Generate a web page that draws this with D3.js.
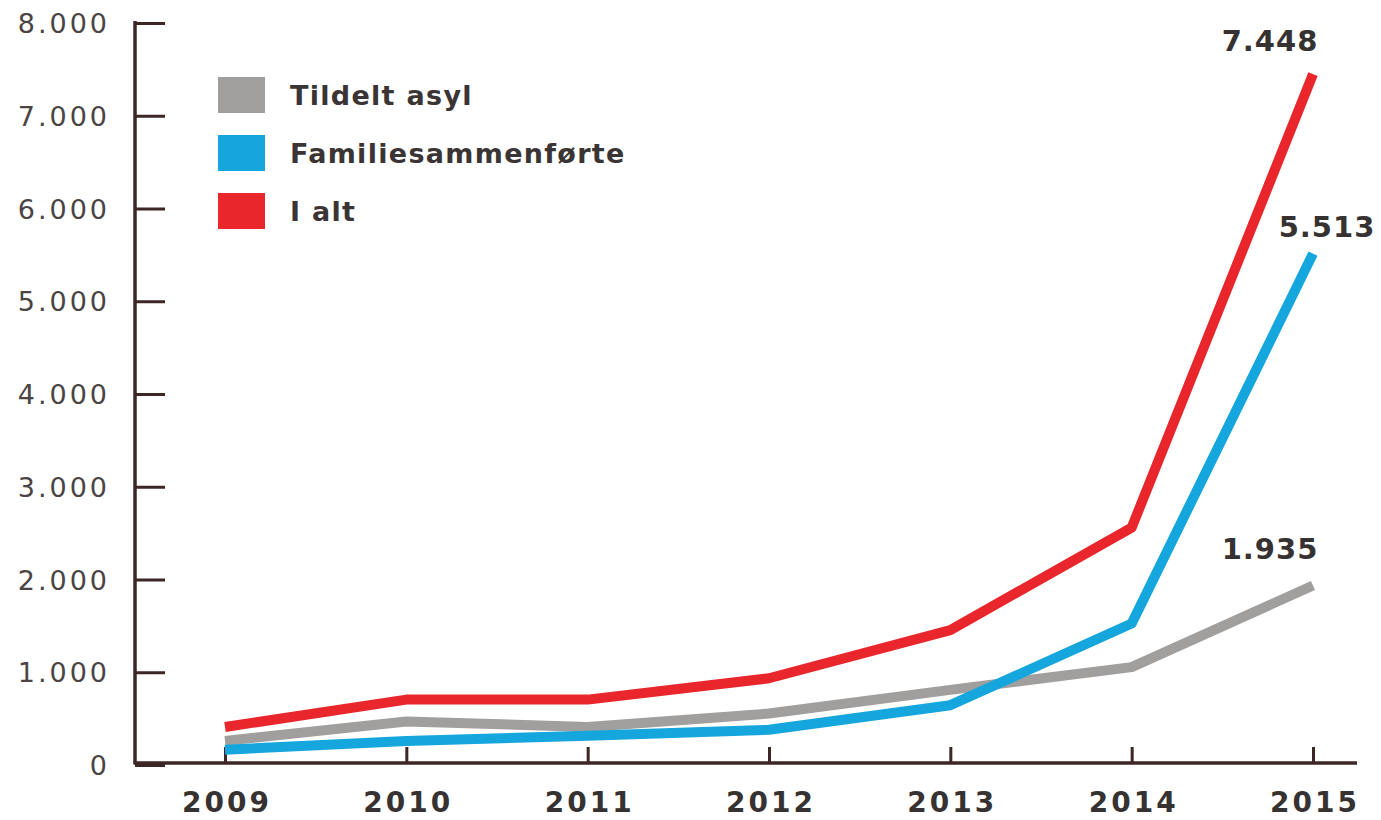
<!DOCTYPE html>
<html>
<head>
<meta charset="utf-8">
<script src="https://cdn.jsdelivr.net/npm/d3@7"></script>
<style>
  body { margin: 0; background: #fff; }
  svg { display: block; }
</style>
</head>
<body>
<div id="chart"></div>
<script>
// data
var years = [2009, 2010, 2011, 2012, 2013, 2014, 2015];
var asyl = [260, 470, 410, 555, 810, 1055, 1935];
var familie = [165, 260, 315, 380, 645, 1525, 5513];
var ialt = [410, 705, 705, 935, 1455, 2560, 7448];
var yTicks = [0, 1000, 2000, 3000, 4000, 5000, 6000, 7000, 8000];
var seriesNames = ["Tildelt asyl", "Familiesammenførte", "I alt"];
var seriesColors = ["#a19f9d", "#14a6dc", "#e8262b"];

var width = 1381, height = 820;
var axisColor = "#3d2626";

var svg = d3.select("#chart").append("svg")
    .attr("width", width)
    .attr("height", height);

var xScale = d3.scalePoint().domain(years).range([225, 1313]);
var yScale = d3.scaleLinear().domain([0, 8000]).range([765, 23]);

// y axis: ticks point right, labels to the left
var yAxis = d3.axisRight(yScale)
    .tickValues(yTicks)
    .tickSize(30)
    .tickSizeOuter(0)
    .tickFormat(function(d){ return d === 0 ? "0" : d3.format(",")(d).replace(/,/g, "."); });

var gy = svg.append("g")
    .attr("transform", "translate(135,0)")
    .call(yAxis);
gy.select(".domain").attr("stroke", axisColor).attr("stroke-width", 3.5)
    .attr("d", "M0," + (yScale(8000) - 2) + "V" + (yScale(0) - 1.5));
gy.selectAll(".tick line").attr("stroke", axisColor).attr("stroke-width", 3);
gy.selectAll(".tick text")
    .attr("x", -25)
    .attr("text-anchor", "end")
    .attr("dy", "0.36em")
    .style("font-family", "DejaVu Sans")
    .style("font-size", "27px")
    .style("letter-spacing", "3px")
    .attr("fill", "#4a4444");

// x axis: ticks point up
var xAxis = d3.axisBottom(xScale).tickSize(-16).tickSizeOuter(0);
var gx = svg.append("g")
    .attr("transform", "translate(0," + (yScale(0) - 2) + ")")
    .call(xAxis);
gx.select(".domain").attr("stroke", axisColor).attr("stroke-width", 3.5)
    .attr("d", "M133.5,0H1357");
gx.selectAll(".tick text")
    .attr("y", 49)
    .attr("dy", "0")
    .attr("dx", "1.5")
    .style("font-family", "DejaVu Sans")
    .style("font-weight", "bold")
    .style("font-size", "28px")
    .style("letter-spacing", "3px")
    .attr("fill", "#363232");
gx.selectAll(".tick line").attr("stroke", axisColor).attr("stroke-width", 3);

// lines
var line = d3.line()
    .x(function(d, i){ return xScale(years[i]); })
    .y(function(d){ return yScale(d); });

[asyl, familie, ialt].forEach(function(s, i){
  svg.append("path")
     .datum(s)
     .attr("d", line)
     .attr("fill", "none")
     .attr("stroke", seriesColors[i])
     .attr("stroke-width", 10)
     .attr("stroke-linejoin", "round");
});

// end value labels
var endLabels = [
  {v: asyl[6], dx: -43, dy: -37},
  {v: familie[6], dx: 14, dy: -27},
  {v: ialt[6], dx: -43, dy: -34}
];
svg.selectAll(".endlabel")
   .data(endLabels)
   .enter()
   .append("text")
   .attr("class", "endlabel")
   .attr("x", function(d){ return xScale(2015) + d.dx; })
   .attr("y", function(d){ return yScale(d.v) + d.dy; })
   .attr("text-anchor", "middle")
   .attr("dy", "0.36em")
   .style("font-family", "DejaVu Sans")
   .style("font-weight", "bold")
   .style("font-size", "29px")
   .style("letter-spacing", "1px")
   .attr("fill", "#363232")
   .text(function(d){ return d3.format(",")(d.v).replace(/,/g, "."); });

// legend
var legend = svg.selectAll(".legend")
    .data(seriesNames)
    .enter()
    .append("g")
    .attr("class", "legend")
    .attr("transform", function(d, i){ return "translate(218," + (77 + i * 58) + ")"; });

legend.append("rect")
    .attr("width", 47)
    .attr("height", 36)
    .attr("fill", function(d, i){ return seriesColors[i]; });

legend.append("text")
    .attr("x", 72)
    .attr("y", 18)
    .attr("dy", "0.36em")
    .style("font-family", "DejaVu Sans")
    .style("font-weight", "bold")
    .style("font-size", "27px")
    .style("letter-spacing", "1.3px")
    .attr("fill", "#3a3434")
    .text(function(d){ return d; });
</script>
</body>
</html>
